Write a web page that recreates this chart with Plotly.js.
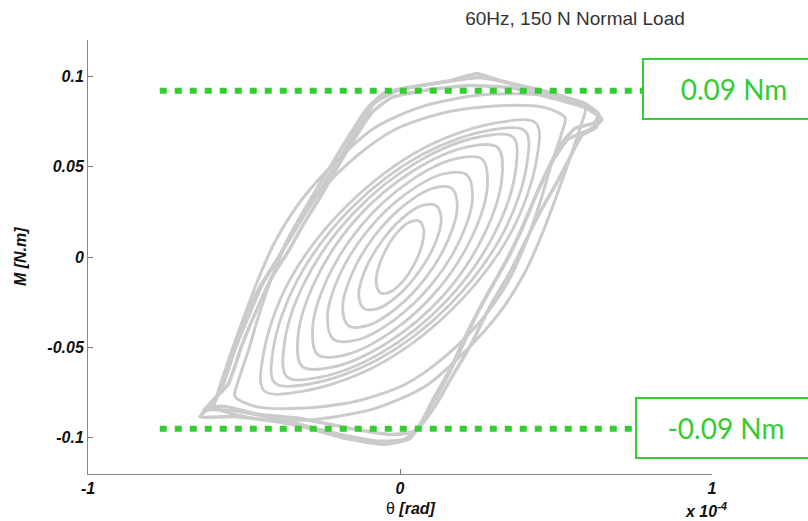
<!DOCTYPE html>
<html><head><meta charset="utf-8">
<script src="https://cdn.plot.ly/plotly-3.0.1.min.js"></script>
<style>html,body{margin:0;padding:0;background:#fff}#chart{width:808px;height:521px}</style>
</head><body><div id="chart"></div>
<script>
// theta in units of 1e-4 rad, moment in N.m
// nested partial-slip loops (innermost to outermost)
const e1Theta = [-0.0452, -0.0699, -0.0760, -0.0615, -0.0308, 0.0083, 0.0452, 0.0699, 0.0760, 0.0615, 0.0308, -0.0083, -0.0452];
const e1Moment = [0.0041, -0.0064, -0.0152, -0.0199, -0.0193, -0.0136, -0.0041, 0.0064, 0.0152, 0.0199, 0.0193, 0.0136, 0.0041];
const e2Theta = [-0.0631, -0.1128, -0.1321, -0.1160, -0.0689, -0.0032, 0.0631, 0.1128, 0.1321, 0.1160, 0.0689, 0.0032, -0.0631];
const e2Moment = [0.0076, -0.0076, -0.0208, -0.0284, -0.0284, -0.0208, -0.0076, 0.0076, 0.0208, 0.0284, 0.0284, 0.0208, 0.0076];
const e3Theta = [-0.0846, -0.1548, -0.1837, -0.1660, -0.1042, -0.0112, 0.0846, 0.1548, 0.1837, 0.1660, 0.1042, 0.0112, -0.0846];
const e3Moment = [0.0110, -0.0096, -0.0277, -0.0379, -0.0380, -0.0283, -0.0110, 0.0096, 0.0277, 0.0379, 0.0380, 0.0283, 0.0110];
const e4Theta = [-0.1045, -0.1949, -0.2324, -0.2138, -0.1381, -0.0192, 0.1045, 0.1949, 0.2324, 0.2138, 0.1381, 0.0192, -0.1045];
const e4Moment = [0.0145, -0.0105, -0.0328, -0.0454, -0.0459, -0.0349, -0.0145, 0.0105, 0.0328, 0.0454, 0.0459, 0.0349, 0.0145];
const e5Theta = [-0.1228, -0.2338, -0.2801, -0.2638, -0.1769, -0.0300, 0.1228, 0.2338, 0.2801, 0.2638, 0.1769, 0.0300, -0.1228];
const e5Moment = [0.0177, -0.0123, -0.0393, -0.0540, -0.0542, -0.0417, -0.0177, 0.0123, 0.0393, 0.0540, 0.0542, 0.0417, 0.0177];
const e6Theta = [-0.1388, -0.2705, -0.3269, -0.3135, -0.2160, -0.0429, 0.1388, 0.2705, 0.3269, 0.3135, 0.2160, 0.0429, -0.1388];
const e6Moment = [0.0213, -0.0128, -0.0439, -0.0605, -0.0609, -0.0477, -0.0213, 0.0128, 0.0439, 0.0605, 0.0609, 0.0477, 0.0213];
const e7Theta = [-0.1494, -0.3038, -0.3708, -0.3628, -0.2574, -0.0590, 0.1494, 0.3038, 0.3708, 0.3628, 0.2574, 0.0590, -0.1494];
const e7Moment = [0.0242, -0.0133, -0.0481, -0.0662, -0.0665, -0.0529, -0.0242, 0.0133, 0.0481, 0.0662, 0.0665, 0.0529, 0.0242];
const e8Theta = [-0.1571, -0.3296, -0.4058, -0.4016, -0.2897, -0.0720, 0.1571, 0.3296, 0.4058, 0.4016, 0.2897, 0.0720, -0.1571];
const e8Moment = [0.0268, -0.0129, -0.0504, -0.0696, -0.0702, -0.0568, -0.0268, 0.0129, 0.0504, 0.0696, 0.0702, 0.0568, 0.0268];
const e9Theta = [-0.1663, -0.3545, -0.4375, -0.4359, -0.3176, -0.0814, 0.1663, 0.3545, 0.4375, 0.4359, 0.3176, 0.0814, -0.1663];
const e9Moment = [0.0290, -0.0131, -0.0535, -0.0739, -0.0744, -0.0607, -0.0290, 0.0131, 0.0535, 0.0739, 0.0744, 0.0607, 0.0290];

// transition loops
const t1Theta = [0.529, 0.519, 0.487, 0.449, 0.404, 0.346, 0.256, 0.144, 0.016, -0.144, -0.321, -0.465, -0.529, -0.519, -0.487, -0.449, -0.404, -0.346, -0.256, -0.144, -0.016, 0.144, 0.321, 0.465, 0.529];
const t1Moment = [0.0771, 0.0689, 0.0523, 0.0303, 0.0083, -0.0138, -0.0358, -0.0551, -0.0705, -0.0799, -0.0837, -0.0826, -0.0771, -0.0689, -0.0523, -0.0303, -0.0083, 0.0138, 0.0358, 0.0551, 0.0705, 0.0799, 0.0837, 0.0826, 0.0771];
const t2Theta = [0.593, 0.583, 0.551, 0.506, 0.458, 0.401, 0.321, 0.208, 0.080, -0.080, -0.272, -0.465, -0.593, -0.583, -0.551, -0.506, -0.458, -0.401, -0.321, -0.208, -0.080, 0.080, 0.272, 0.465, 0.593];
const t2Moment = [0.0826, 0.0744, 0.0579, 0.0358, 0.0138, -0.0083, -0.0303, -0.0523, -0.0716, -0.0837, -0.0898, -0.0893, -0.0826, -0.0744, -0.0579, -0.0358, -0.0138, 0.0083, 0.0303, 0.0523, 0.0716, 0.0837, 0.0898, 0.0893, 0.0826];

// gross-slip (outer) loops
const o1Theta = [-0.631, -0.577, -0.529, -0.481, -0.442, -0.394, -0.343, -0.288, -0.192, -0.106, -0.048, 0.064, 0.160, 0.247, 0.321, 0.481, 0.587, 0.635, 0.625, 0.561, 0.513, 0.465, 0.439, 0.385, 0.343, 0.288, 0.215, 0.160, 0.106, 0.064, 0.016, -0.064, -0.192, -0.321, -0.417, -0.513, -0.609, -0.631];
const o1Moment = [-0.0854, -0.0749, -0.0512, -0.0309, -0.0154, -0.0017, 0.0149, 0.0314, 0.0590, 0.0821, 0.0909, 0.0948, 0.0975, 0.1014, 0.0975, 0.0904, 0.0854, 0.0793, 0.0744, 0.0711, 0.0617, 0.0452, 0.0353, 0.0132, -0.0017, -0.0182, -0.0419, -0.0623, -0.0788, -0.0926, -0.1008, -0.1019, -0.0981, -0.0926, -0.0887, -0.0854, -0.0843, -0.0854];
const o2Theta = [-0.615, -0.551, -0.506, -0.458, -0.410, -0.359, -0.311, -0.256, -0.167, -0.090, -0.026, 0.096, 0.224, 0.353, 0.481, 0.593, 0.641, 0.628, 0.583, 0.545, 0.503, 0.449, 0.401, 0.353, 0.288, 0.224, 0.167, 0.112, 0.048, -0.032, -0.160, -0.321, -0.449, -0.561, -0.615];
const o2Moment = [-0.0826, -0.0705, -0.0485, -0.0287, -0.0110, 0.0028, 0.0176, 0.0331, 0.0595, 0.0799, 0.0882, 0.0926, 0.0948, 0.0937, 0.0882, 0.0826, 0.0771, 0.0716, 0.0672, 0.0551, 0.0413, 0.0248, 0.0083, -0.0083, -0.0275, -0.0496, -0.0661, -0.0826, -0.0964, -0.0981, -0.0948, -0.0893, -0.0871, -0.0826, -0.0826];
const o3Theta = [-0.641, -0.593, -0.545, -0.497, -0.449, -0.378, -0.321, -0.240, -0.144, -0.080, 0, 0.128, 0.256, 0.385, 0.513, 0.609, 0.647, 0.609, 0.538, 0.481, 0.433, 0.378, 0.321, 0.250, 0.192, 0.135, 0.080, 0.032, -0.048, -0.176, -0.288, -0.401, -0.529, -0.641];
const o3Moment = [-0.0882, -0.0799, -0.0551, -0.0331, -0.0165, 0.0028, 0.0193, 0.0413, 0.0689, 0.0854, 0.0926, 0.0964, 0.0992, 0.0948, 0.0893, 0.0826, 0.0760, 0.0705, 0.0650, 0.0507, 0.0331, 0.0110, -0.0083, -0.0303, -0.0523, -0.0716, -0.0882, -0.1003, -0.1036, -0.1003, -0.0948, -0.0909, -0.0882, -0.0882];

// friction limit reference lines
const limitLevels = [0.092, -0.095];
const limitStart = [-0.77, -0.77];
const limitEnd = [0.79, 0.77];
const limitLabels = ['0.09 Nm', '-0.09 Nm'];

const xTickVals = [-1, 0, 1];
const xTickText = ['-1', '0', '1'];
const yTickVals = [0.1, 0.05, 0, -0.05, -0.1];
const yTickText = ['0.1', '0.05', '0', '-0.05', '-0.1'];

const GRAY = '#cbcbcb';
const GREEN = '#33cc33';

const ellipses = [[e1Theta,e1Moment],[e2Theta,e2Moment],[e3Theta,e3Moment],[e4Theta,e4Moment],[e5Theta,e5Moment],[e6Theta,e6Moment],[e7Theta,e7Moment],[e8Theta,e8Moment],[e9Theta,e9Moment]];
const transition = [[t1Theta,t1Moment],[t2Theta,t2Moment]];
const outer = [[o1Theta,o1Moment],[o2Theta,o2Moment],[o3Theta,o3Moment]];

const traces = [];
ellipses.forEach(([x,y]) => traces.push({x, y, type:'scatter', mode:'lines', line:{color:GRAY, width:2.8, shape:'spline', smoothing:1}, hoverinfo:'skip', showlegend:false}));
transition.forEach(([x,y]) => traces.push({x, y, type:'scatter', mode:'lines', line:{color:GRAY, width:3, shape:'spline', smoothing:0.8}, hoverinfo:'skip', showlegend:false}));
outer.forEach(([x,y]) => traces.push({x, y, type:'scatter', mode:'lines', line:{color:GRAY, width:3.5, shape:'spline', smoothing:0.5}, hoverinfo:'skip', showlegend:false}));
limitLevels.forEach((lv,i) => traces.push({x:[limitStart[i], limitEnd[i]], y:[lv, lv], type:'scatter', mode:'lines', line:{color:GREEN, width:6, dash:'7px,8px'}, hoverinfo:'skip', showlegend:false}));

const FONT = 'Arial, Liberation Sans, sans-serif';
const tickFont = {family:FONT, size:16, color:'#111', weight:'bold', style:'italic'};

const layout = {
  width:808, height:521,
  margin:{l:88, r:96, t:40, b:47},
  paper_bgcolor:'#fff', plot_bgcolor:'#fff',
  showlegend:false,
  title:{text:'60Hz, 150 N Normal Load', x:575/808, xref:'container', xanchor:'center', y:1-18/521, yref:'container', yanchor:'middle', font:{family:FONT, size:19, color:'#333'}},
  xaxis:{range:[-1,1], tickvals:xTickVals, ticktext:xTickText, ticks:'inside', ticklen:5, tickcolor:'#777', showline:true, linecolor:'#888', linewidth:1, showgrid:false, zeroline:false, tickfont:tickFont},
  yaxis:{range:[-0.12,0.12], tickvals:yTickVals, ticktext:yTickText, ticks:'inside', ticklen:5, tickcolor:'#777', showline:true, linecolor:'#888', linewidth:1, showgrid:false, zeroline:false, tickfont:tickFont},
  annotations:[
    {text:'<b><i>M [N.m]</i></b>', xref:'paper', yref:'paper', x:(20-88)/624, y:0.5, xanchor:'center', yanchor:'middle', textangle:-90, showarrow:false, font:{family:FONT, size:16, color:'#111'}},
    {text:'θ <b><i>[rad]</i></b>', xref:'paper', yref:'paper', x:(411-88)/624, y:(474-508)/434, xanchor:'center', yanchor:'middle', showarrow:false, font:{family:FONT, size:16, color:'#111'}},
    {text:'<b><i>x 10<sup>-4</sup></i></b>', xref:'paper', yref:'paper', x:(706-88)/624, y:(474-510)/434, xanchor:'center', yanchor:'middle', showarrow:false, font:{family:FONT, size:16, color:'#111'}},
    {text:limitLabels[0], xref:'paper', yref:'paper', x:(642-88)/624, xanchor:'left', y:(474-88.5)/434, yanchor:'middle', showarrow:false, width:180, height:58, borderpad:0, bordercolor:GREEN, borderwidth:2, bgcolor:'#fff', font:{family:'Lato, Open Sans, sans-serif', size:28, color:GREEN}},
    {text:limitLabels[1], xref:'paper', yref:'paper', x:(635-88)/624, xanchor:'left', y:(474-428)/434, yanchor:'middle', showarrow:false, width:178, height:58, borderpad:0, bordercolor:GREEN, borderwidth:2, bgcolor:'#fff', font:{family:'Lato, Open Sans, sans-serif', size:28, color:GREEN}}
  ]
};
Plotly.newPlot('chart', traces, layout, {staticPlot:true, displayModeBar:false});
</script></body></html>
